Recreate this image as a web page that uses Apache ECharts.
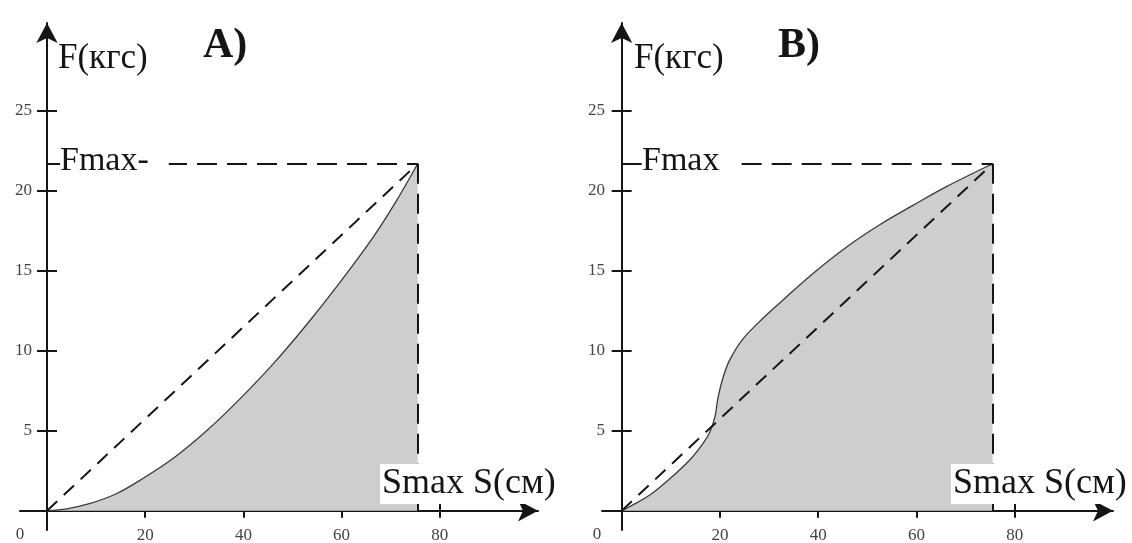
<!DOCTYPE html>
<html>
<head>
<meta charset="utf-8">
<script src="https://cdn.jsdelivr.net/npm/echarts@6/dist/echarts.min.js"></script>
<style>
  html, body { margin: 0; background: #fff; }
  #chart { width: 1132px; height: 543px; }
</style>
</head>
<body>
<div id="chart"></div>
<script>
// curve A (convex), S in cm, F in kgf
const leftS = [0, 4.0, 8.8, 14.0, 19.0, 25.8, 32.5, 39.3, 46.1, 52.9, 59.7, 66.4, 71.0, 75.5]
const leftF = [0, 0.12, 0.46, 1.05, 1.92, 3.3, 5.0, 7.0, 9.2, 11.65, 14.3, 17.1, 19.3, 21.7]
// curve B (S-shaped)
const rightS = [0, 1.7, 5.8, 9.8, 13.9, 16.6, 18.0, 19.0, 19.65, 20.7, 22.0, 24.7, 28.8, 32.9, 39.0, 45.8, 52.6, 59.3, 66.1, 75.5]
const rightF = [0, 0.27, 1.0, 2.0, 3.19, 4.23, 4.96, 5.9, 7.14, 8.4, 9.44, 10.75, 12.05, 13.2, 14.86, 16.5, 17.9, 19.1, 20.27, 21.7]

const xTicks = [20, 40, 60, 80]
const yTicks = [5, 10, 15, 20, 25]

const serif = '"Liberation Serif", "Times New Roman", serif'
const ink = '#151515'

function xAxes(gi, yIdx, xMin, helper) {
  return {
    type: 'value', gridIndex: gi, min: xMin, max: 100, position: 'bottom',
    splitLine: { show: false },
    axisLine: {
      show: !helper, onZero: true, onZeroAxisIndex: yIdx,
      symbol: ['none', 'arrow'], symbolSize: [16, 20],
      lineStyle: { color: ink, width: 2 }
    },
    axisTick: { show: true, inside: helper, length: 7, customValues: xTicks, lineStyle: { color: ink, width: 2 } },
    axisLabel: {
      show: !helper, customValues: xTicks, margin: -3,
      fontFamily: serif, fontSize: 17, color: '#444'
    }
  }
}

function yAxes(gi, xIdx, labelMargin, helper) {
  return {
    type: 'value', gridIndex: gi, min: -1.2, max: 30.5, position: 'left',
    splitLine: { show: false },
    axisLine: {
      show: !helper, onZero: true, onZeroAxisIndex: xIdx,
      symbol: ['none', 'arrow'], symbolSize: [16, 20],
      lineStyle: { color: ink, width: 2 }
    },
    axisTick: { show: true, inside: helper, length: 10, customValues: yTicks, lineStyle: { color: ink, width: 2 } },
    axisLabel: {
      show: !helper, customValues: yTicks, margin: labelMargin,
      fontFamily: serif, fontSize: 17, color: '#444'
    }
  }
}

function curveSeries(gi, s, f) {
  const data = s.map((v, i) => [v, f[i]])
  const end = data[data.length - 1]
  return {
    type: 'line', xAxisIndex: gi, yAxisIndex: gi, data: data,
    smooth: 0.35, symbol: 'none', silent: true,
    lineStyle: { color: '#3a3a3a', width: 1.3 },
    areaStyle: { color: '#cecece', opacity: 1 },
    markLine: {
      silent: true, symbol: 'none', label: { show: false },
      lineStyle: { color: ink, width: 2, type: [20, 10] },
      data: [
        [{ coord: [0, 0], lineStyle: { type: [14, 9] } }, { coord: end }],
        [{ coord: [0, end[1]] }, { coord: end }],
        [{ coord: end }, { coord: [end[0], 0] }]
      ]
    }
  }
}

function txt(x, y, text, size, extra) {
  return {
    type: 'text', x: x, y: y, z: 100,
    style: Object.assign({
      text: text, font: size + 'px ' + serif, fill: ink,
      verticalAlign: 'middle'
    }, extra || {})
  }
}

const chart = echarts.init(document.getElementById('chart'))
chart.setOption({
  animation: false,
  backgroundColor: '#fff',
  grid: [
    { left: 20, top: 23, width: 518, height: 507, containLabel: false, outerBoundsMode: 'none' },
    { left: 602, top: 23, width: 511, height: 507, containLabel: false, outerBoundsMode: 'none' }
  ],
  xAxis: [
    xAxes(0, 0, -5.5, false),
    xAxes(1, 1, -4, false),
    xAxes(0, 0, -5.5, true),
    xAxes(1, 1, -4, true)
  ],
  yAxis: [
    yAxes(0, 0, -12, false),
    yAxes(1, 1, -3, false),
    yAxes(0, 0, 0, true),
    yAxes(1, 1, 0, true)
  ],
  series: [
    curveSeries(0, leftS, leftF),
    curveSeries(1, rightS, rightF)
  ],
  graphic: [
    txt(58, 59, 'F(кгс)', 35),
    txt(203, 46, 'A)', 42, { font: 'bold 42px ' + serif }),
    txt(60, 161, 'Fmax-', 34, { backgroundColor: '#fff', padding: [0, 20, 0, 0] }),
    txt(380, 484, 'Smax S(см)', 36, { backgroundColor: '#fff', padding: [2, 2, 2, 2] }),
    txt(20, 535, '0', 17, { fill: '#444', align: 'center' }),
    txt(634, 59, 'F(кгс)', 35),
    txt(778, 46, 'B)', 42, { font: 'bold 42px ' + serif }),
    txt(642, 161, 'Fmax', 34, { backgroundColor: '#fff', padding: [0, 20, 0, 0] }),
    txt(951, 484, 'Smax S(см)', 36, { backgroundColor: '#fff', padding: [2, 2, 2, 2] }),
    txt(597, 535, '0', 17, { fill: '#444', align: 'center' })
  ]
})
</script>
</body>
</html>
